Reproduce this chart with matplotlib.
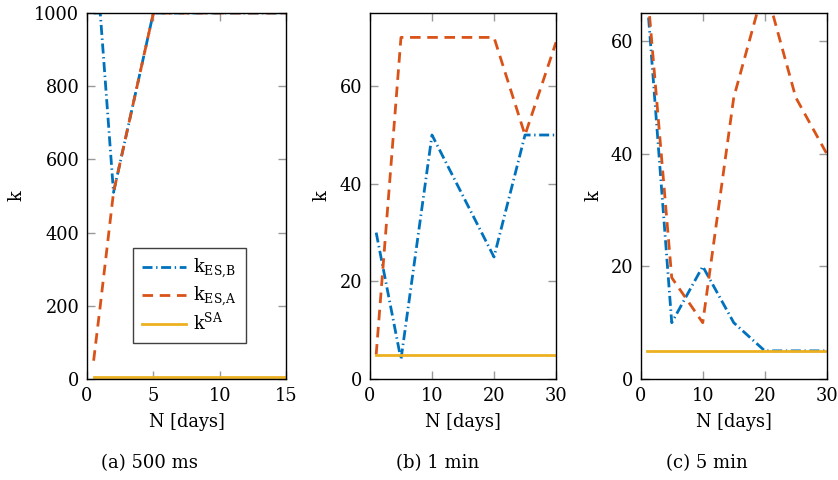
import matplotlib
matplotlib.use('Agg')
from matplotlib import pyplot as plt

plt.rcParams['font.family'] = 'DejaVu Serif'
plt.rcParams['mathtext.fontset'] = 'dejavuserif'
plt.rcParams['font.size'] = 12.8

# colours of the three estimators
c_esb = '#0072BD'
c_esa = '#D95319'
c_sa = '#EDB120'

# (a) 500 ms
n_a = [0.5, 1, 2, 5, 10, 15]
esb_a = [1000, 1000, 510, 1000, 1000, 1000]
esa_a = [50, 200, 510, 1000, 1000, 1000]
sa_a = [5, 5, 5, 5, 5, 5]

# (b) 1 min
n_b = [1, 5, 10, 20, 25, 30]
esb_b = [30, 4, 50, 25, 50, 50]
esa_b = [5, 70, 70, 70, 50, 69]
sa_b = [5, 5, 5, 5, 5, 5]

# (c) 5 min
n_c = [1, 5, 10, 15, 20, 25, 30]
esb_c = [68, 10, 20, 10, 5, 5, 5]
esa_c = [70, 18, 10, 50, 70, 50, 40]
sa_c = [5, 5, 5, 5, 5, 5, 5]

panels = [
    dict(n=n_a, esb=esb_a, esa=esa_a, sa=sa_a, xlim=(0, 15), xticks=[0, 5, 10, 15],
         ylim=(0, 1000), yticks=[0, 200, 400, 600, 800, 1000], caption='(a) 500 ms'),
    dict(n=n_b, esb=esb_b, esa=esa_b, sa=sa_b, xlim=(0, 30), xticks=[0, 10, 20, 30],
         ylim=(0, 75), yticks=[0, 20, 40, 60], caption='(b) 1 min'),
    dict(n=n_c, esb=esb_c, esa=esa_c, sa=sa_c, xlim=(0, 30), xticks=[0, 10, 20, 30],
         ylim=(0, 65), yticks=[0, 20, 40, 60], caption='(c) 5 min'),
]

# axes boxes in figure fractions, plus label / caption placement
boxes = [(0.1038, 0.2104, 0.2375, 0.7625),
         (0.4415, 0.2104, 0.2220, 0.7625),
         (0.7646, 0.2104, 0.2220, 0.7625)]
ylabel_x = [-0.354, -0.258, -0.256]
caption_x = [0.1778, 0.522, 0.8433]

fig = plt.figure(figsize=(8.38, 4.8), dpi=100)

for i, p in enumerate(panels):
    ax = fig.add_axes(boxes[i])
    ax.plot(p['n'], p['esb'], color=c_esb, lw=2.0, dashes=(3.6, 1.3, 0.5, 1.3),
            label=r'k$_{\text{ES,B}}$')
    ax.plot(p['n'], p['esa'], color=c_esa, lw=2.0, dashes=(3.8, 2.4),
            label=r'k$_{\text{ES,A}}$')
    ax.plot(p['n'], p['sa'], color=c_sa, lw=2.0, label=r'k$^{\text{SA}}$')

    ax.set_xlim(*p['xlim'])
    ax.set_ylim(*p['ylim'])
    ax.set_xticks(p['xticks'])
    ax.set_yticks(p['yticks'])
    ax.tick_params(direction='in', top=True, right=True, length=6, width=1,
                   color='#999999', pad=5.5, labelsize=12.8)
    for s in ax.spines.values():
        s.set_linewidth(1.0)
        s.set_color('black')

    ax.set_xlabel('N [days]', fontsize=12.8)
    ax.xaxis.set_label_coords(0.5, -0.093)
    ax.set_ylabel('k', fontsize=12.8, va='center')
    ax.yaxis.set_label_coords(ylabel_x[i], 0.5)

    fig.text(caption_x[i], 0.0354, p['caption'], ha='center', va='center', fontsize=13)

    if i == 0:
        leg = ax.legend(loc='lower left', bbox_to_anchor=(0.23, 0.099), borderaxespad=0,
                        fancybox=False, framealpha=1, edgecolor='#404040',
                        handlelength=2.5, labelspacing=0.25, fontsize=12.8,
                        borderpad=0.5, handletextpad=0.4)
        leg.get_frame().set_linewidth(1.0)

fig.savefig('out.png', dpi=100)
